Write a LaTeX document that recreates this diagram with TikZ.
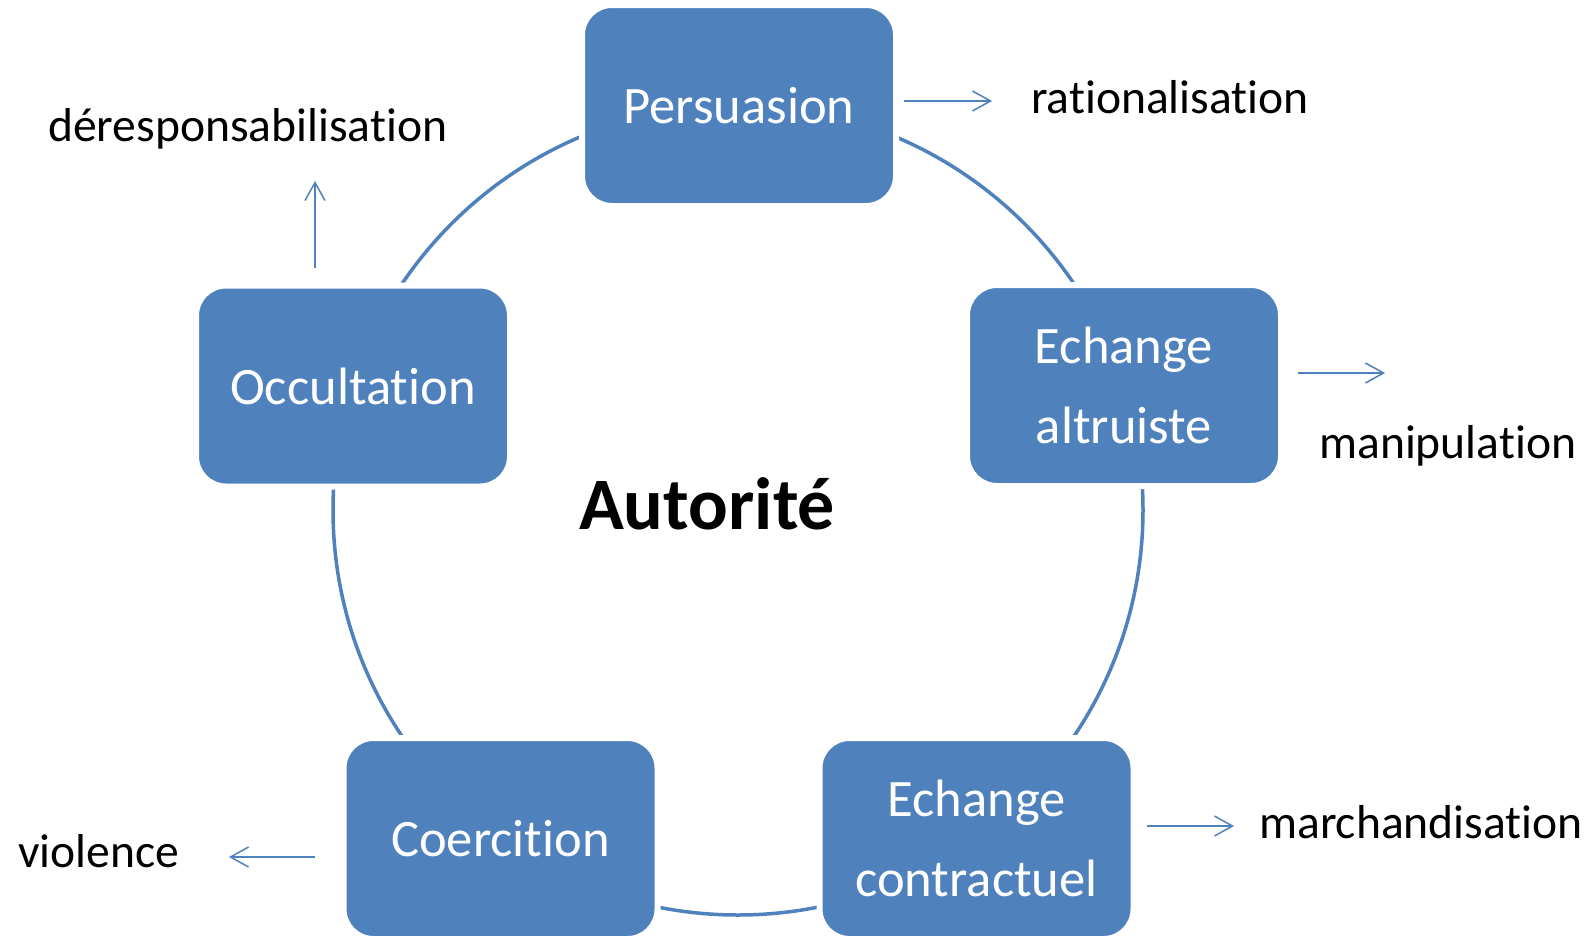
\documentclass[tikz,border=0pt]{standalone}
\usepackage{fontspec}
\setmainfont[Ligatures={NoCommon}]{Carlito}
\usetikzlibrary{arrows.meta}
\definecolor{boxblue}{HTML}{4F81BD}
\tikzset{
  box/.style={fill=boxblue, draw=white, line width=6pt, rounded corners=30pt,
    minimum width=314pt, minimum height=201pt, inner sep=0pt, text=white,
    align=center, font=\fontsize{52.6}{80}\selectfont},
  lbl/.style={inner sep=0pt, text=black, font=\fontsize{47.6}{57}\selectfont},
  ring/.style={draw=boxblue, line width=3.5pt},
  arr/.style={draw=boxblue, line width=1.5pt, -{Straight Barb[length=18pt, width=20pt, line width=1.5pt]}}
}
\begin{document}
\begin{tikzpicture}[x=1pt, y=-1pt]
\useasboundingbox (0,0) rectangle (1595,937);
\fill[white] (0,0) rectangle (1595,937);
% ring
\draw[ring] (738,510) circle[radius=405];
% boxes
\node[box] (pers) at (739,105.5) {Persuasion};
\node[box] (occ) at (353,386) {Occultation};
\node[box] (alt) at (1124,385.5) {Echange\\altruiste};
\node[box] (coe) at (500.5,838.5) {Coercition};
\node[box] (con) at (976.5,838.5) {Echange\\contractuel};
% centre label
\node[inner sep=0pt, anchor=base, font=\fontsize{74}{80}\selectfont\bfseries] (aut) at (707,529) {Autorité};
% labels
\node[lbl, anchor=base west] (rat) at (1031,113) {rationalisation};
\node[lbl, anchor=base west] (der) at (48,141) {déresponsabilisation};
\node[lbl, anchor=base west] (man) at (1319,458) {manipulation};
\node[lbl, anchor=base west] (mar) at (1259,838) {marchandisation};
\node[lbl, anchor=base west] (vio) at (18,867) {violence};
% arrow end points
\coordinate (p1) at (904,101);  \coordinate (q1) at (992,101);
\coordinate (p2) at (315,268);  \coordinate (q2) at (315,181);
\coordinate (p3) at (1298,373); \coordinate (q3) at (1385,373);
\coordinate (p4) at (1147,826); \coordinate (q4) at (1234,826);
\coordinate (p5) at (315,857);  \coordinate (q5) at (229,857);
\draw[arr] (p1) -- (q1);
\draw[arr] (p2) -- (q2);
\draw[arr] (p3) -- (q3);
\draw[arr] (p4) -- (q4);
\draw[arr] (p5) -- (q5);
\end{tikzpicture}
\end{document}
